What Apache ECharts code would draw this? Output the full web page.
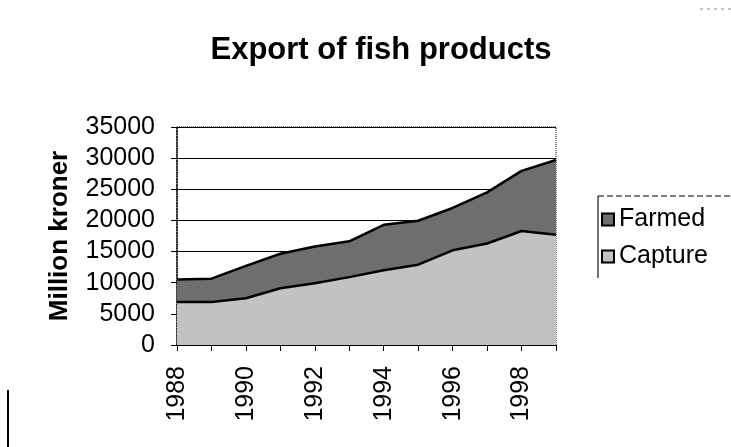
<!DOCTYPE html>
<html><head><meta charset="utf-8">
<script src="https://cdn.jsdelivr.net/npm/echarts@6/dist/echarts.min.js"></script>
<style>html,body{margin:0;padding:0;background:#fff}#c{width:731px;height:447px}</style>
</head><body><div id="c"></div>
<script>
const years = ['1988','1989','1990','1991','1992','1993','1994','1995','1996','1997','1998','1999'];
const capture = [6900, 6900, 7500, 9100, 9900, 10900, 12000, 12900, 15200, 16300, 18300, 17700];
const farmed = [3600, 3750, 5200, 5550, 5900, 5750, 7300, 7050, 6800, 8200, 9650, 12000];
const yTicks = { min: 0, max: 35000, interval: 5000 };

const F = 'Liberation Sans, Arial, sans-serif';
const chart = echarts.init(document.getElementById('c'));
chart.setOption({
  animation: false,
  backgroundColor: '#fff',
  title: {
    text: 'Export of fish products', left: 376, top: 30, textAlign: 'center',
    textStyle: { fontFamily: F, fontWeight: 'bold', fontSize: 31, color: '#000' }
  },
  legend: {
    data: ['Farmed', 'Capture'], orient: 'vertical', left: 596, top: 202,
    itemWidth: 12, itemHeight: 12, itemGap: 12, icon: 'rect',
    textStyle: { fontFamily: F, fontSize: 25, color: '#000' }
  },
  grid: { left: 177, right: 175, top: 127, bottom: 102, show: true, borderColor: '#000', borderWidth: 1, borderType: 'dotted' },
  xAxis: {
    type: 'category', data: years, boundaryGap: false,
    axisLine: { lineStyle: { color: '#000', width: 1 } },
    axisTick: { interval: 0, length: 6, lineStyle: { color: '#000' } },
    axisLabel: { interval: 1, rotate: 90, margin: 21, fontFamily: F, fontSize: 25, color: '#000' }
  },
  yAxis: {
    type: 'value', min: yTicks.min, max: yTicks.max, interval: yTicks.interval,
    name: 'Million kroner', nameLocation: 'middle', nameGap: 104, nameRotate: 90,
    nameTextStyle: { fontFamily: F, fontWeight: 'bold', fontSize: 26, color: '#000' },
    axisLine: { show: true, lineStyle: { color: '#000', width: 1.5, type: 'dotted' } },
    axisTick: { show: true, length: 6, lineStyle: { color: '#000' } },
    axisLabel: { margin: 22, fontFamily: F, fontSize: 25, color: '#000', formatter: v => String(v) },
    splitLine: { lineStyle: { color: '#000', width: 1 } }
  },
  series: [
    { name: 'Capture', type: 'line', stack: 't', data: capture, symbol: 'none',
      lineStyle: { color: '#000', width: 2.5 }, itemStyle: { color: '#c2c2c2', borderColor: '#000', borderWidth: 1 },
      areaStyle: { color: '#c2c2c2', opacity: 1 } },
    { name: 'Farmed', type: 'line', stack: 't', data: farmed, symbol: 'none',
      lineStyle: { color: '#000', width: 2.5 }, itemStyle: { color: '#6e6e6e', borderColor: '#000', borderWidth: 1 },
      areaStyle: { color: '#6e6e6e', opacity: 1 } }
  ],
  graphic: [
    { type: 'line', shape: { x1: 598, y1: 196, x2: 598, y2: 278 }, style: { stroke: '#444', lineWidth: 1.5 } },
    { type: 'line', shape: { x1: 598, y1: 196, x2: 731, y2: 196 }, style: { stroke: '#000', lineWidth: 1, lineDash: [6, 3] } },
    { type: 'line', shape: { x1: 8, y1: 390, x2: 8, y2: 447 }, style: { stroke: '#000', lineWidth: 2 } },
    { type: 'line', shape: { x1: 700, y1: 9, x2: 731, y2: 9 }, style: { stroke: '#888', lineWidth: 1, lineDash: [3, 4] } }
  ]
});
</script></body></html>
